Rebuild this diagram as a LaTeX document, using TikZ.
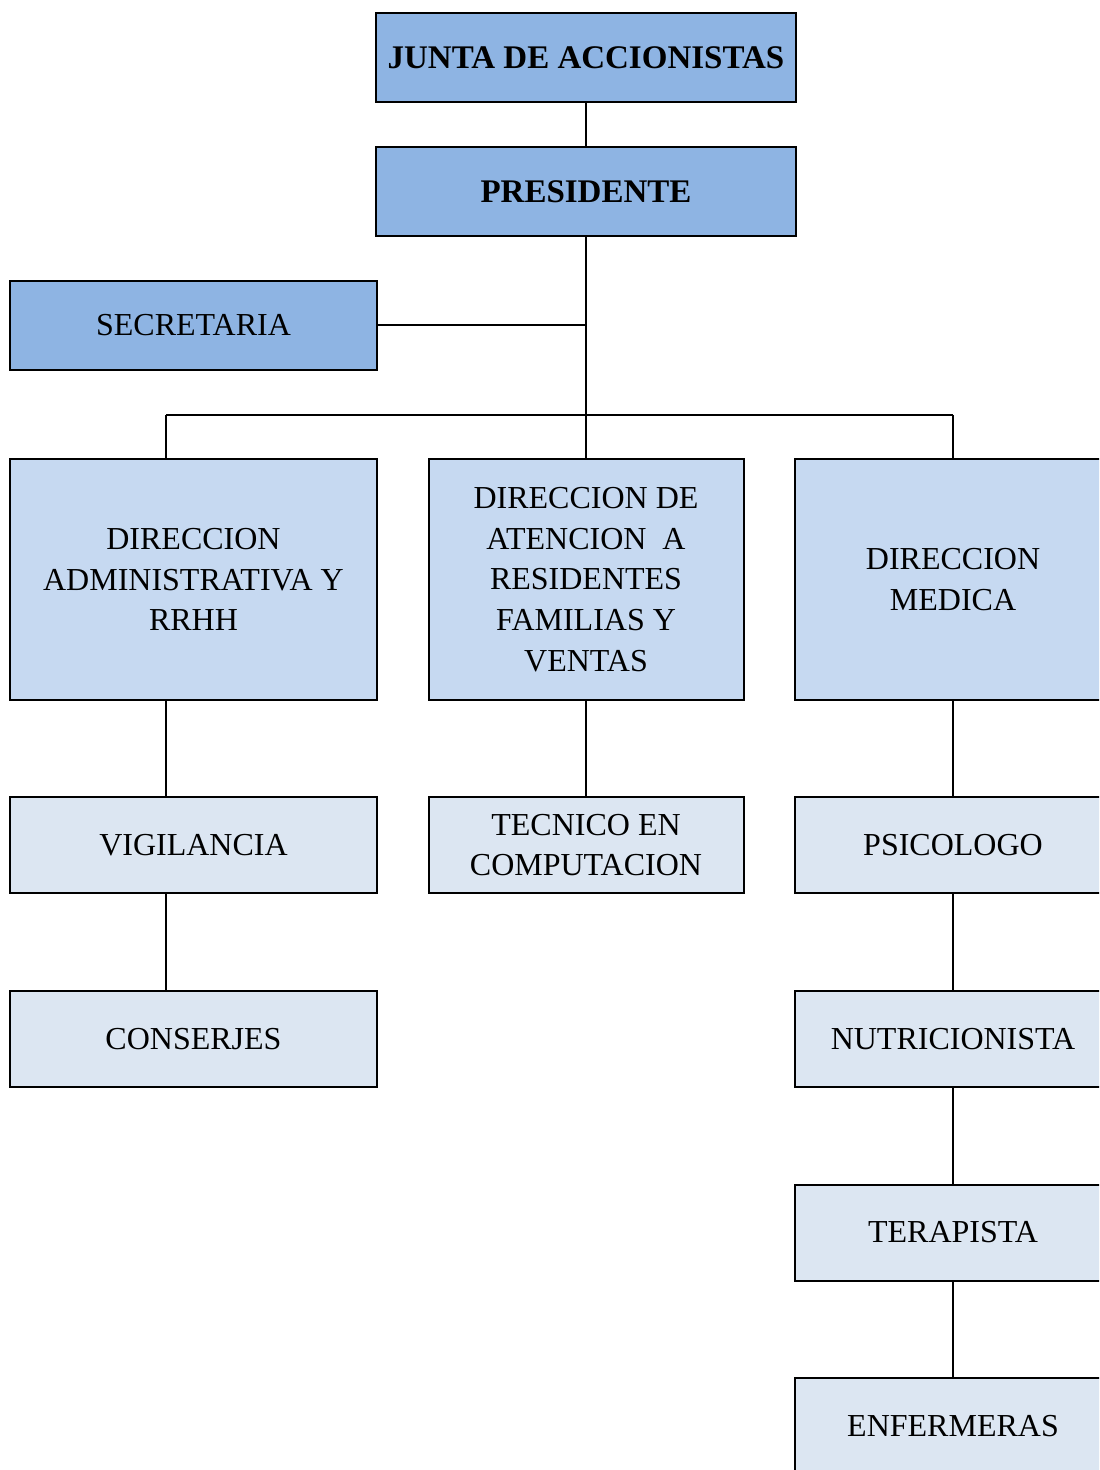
\documentclass[tikz,border=0pt]{standalone}
\usepackage{fontspec}
\setmainfont{Liberation Serif}
\definecolor{cdark}{HTML}{8EB4E3}
\definecolor{cmid}{HTML}{C6D9F1}
\definecolor{clight}{HTML}{DCE6F2}
\begin{document}
\begin{tikzpicture}[x=0.5pt,y=-0.5pt,
  box/.style={draw=black, line width=1pt, inner sep=0pt, align=center,
    font=\fontsize{16}{20.3}\selectfont},
  topbox/.style={box, fill=cdark, minimum height=44.5pt},
  dirbox/.style={box, fill=cmid, minimum height=120.5pt},
  lowbox/.style={box, fill=clight, minimum height=48pt},
  wl/.style={minimum width=183.5pt},
  wm/.style={minimum width=157.5pt},
  wr/.style={minimum width=158pt},
  conn/.style={line width=1pt}]
\clip (0,0) rectangle (1099,1470);
\fill[white] (0,0) rectangle (1099,1470);
\node[topbox, minimum width=210pt, font=\fontsize{16.5}{20.3}\selectfont\bfseries] (junta) at (586,57.5) {\raisebox{-1.2pt}{JUNTA DE ACCIONISTAS}};
\node[topbox, minimum width=210pt, font=\fontsize{16.5}{20.3}\selectfont\bfseries] (pres) at (586,191.5) {\raisebox{-1.2pt}{PRESIDENTE}};
\node[topbox, wl] (sec) at (193.5,325.5) {\raisebox{-1pt}{SECRETARIA}};
\node[dirbox, wl] (adm) at (193.5,579.5) {DIRECCION\\ADMINISTRATIVA Y\\RRHH};
\node[dirbox, wm] (dat) at (586,579.5) {DIRECCION DE\\ATENCION\ \ A\\RESIDENTES\\FAMILIAS Y\\VENTAS};
\node[dirbox, wr] (med) at (953,579.5) {DIRECCION\\MEDICA};
\node[lowbox, wl] (vig) at (193.5,845) {\raisebox{-1pt}{VIGILANCIA}};
\node[lowbox, wm] (tec) at (586,845) {TECNICO EN\\COMPUTACION};
\node[lowbox, wr] (psi) at (953,845) {\raisebox{-1pt}{PSICOLOGO}};
\node[lowbox, wl] (con) at (193.5,1039) {\raisebox{-1pt}{CONSERJES}};
\node[lowbox, wr] (nut) at (953,1039) {\raisebox{-1pt}{NUTRICIONISTA}};
\node[lowbox, wr] (ter) at (953,1232.5) {\raisebox{-1pt}{TERAPISTA}};
\node[lowbox, wr] (enf) at (953,1426) {\raisebox{-1pt}{ENFERMERAS}};
\coordinate (busL) at (166,415);
\coordinate (busR) at (953,415);
\draw[conn] (junta.south) -- (pres.north);
\draw[conn] (pres.south) -- (pres.south |- dat.north);
\draw[conn] (sec.east) -- (sec.east -| pres.south);
\draw[conn] (busL) -- (busR);
\draw[conn] (busL) -- (busL |- adm.north);
\draw[conn] (busR) -- (med.north);
\draw[conn] (busL |- adm.south) -- (busL |- vig.north);
\draw[conn] (busL |- vig.south) -- (busL |- con.north);
\draw[conn] (dat.south) -- (tec.north);
\draw[conn] (med.south) -- (psi.north);
\draw[conn] (psi.south) -- (nut.north);
\draw[conn] (nut.south) -- (ter.north);
\draw[conn] (ter.south) -- (enf.north);
\end{tikzpicture}
\end{document}
